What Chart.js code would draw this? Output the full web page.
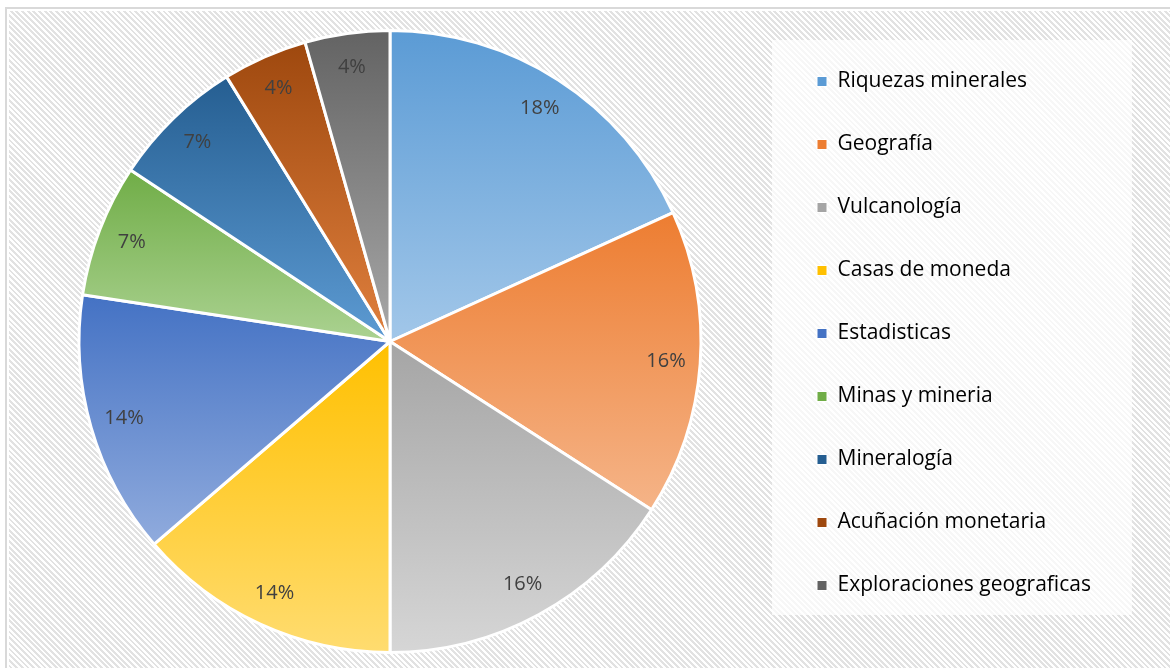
<!DOCTYPE html>
<html>
<head>
<meta charset="utf-8">
<script src="https://cdn.jsdelivr.net/npm/chart.js@4"></script>
<style>
  html, body { margin: 0; padding: 0; background: #fff; overflow: hidden; }
  #frame {
    position: absolute; left: 5px; top: 7px; width: 1200px; height: 700px;
    border: 2px solid #d9d9d9; padding: 2px; background-clip: content-box;
    background-image: repeating-linear-gradient(45deg, #fff 0px, #fff 2px, #e2e2e2 2px, #e2e2e2 4px);
  }
  #wrap { position: absolute; left: 0; top: 0; width: 1170px; height: 668px; }
</style>
</head>
<body>
<div id="frame"></div>
<div id="wrap"><canvas id="pieChart"></canvas></div>
<script>
// Datos (porcentaje por tema)
const labels = ['Riquezas minerales', 'Geografía', 'Vulcanología', 'Casas de moneda', 'Estadisticas',
                'Minas y mineria', 'Mineralogía', 'Acuñación monetaria', 'Exploraciones geograficas'];
const values = [18.2, 15.9, 15.9, 13.7, 13.7, 6.9, 6.9, 4.4, 4.4];

// Colores: arriba (oscuro) y abajo (claro) de cada porción
const topColors = ['#5b9bd5', '#ed7d31', '#a5a5a5', '#ffc000', '#4472c4', '#70ad47', '#255e91', '#9e480e', '#636363'];
const bottomColors = ['#a2c7e9', '#f5b488', '#d6d6d6', '#ffdc70', '#90abdd', '#abd291', '#5d9bd3', '#e0803e', '#a8a8a8'];

const total = values.reduce((a, b) => a + b, 0);

// Degradado vertical según el rectángulo de cada porción
function sliceGradient(context) {
    const chart = context.chart;
    const i = context.dataIndex;
    const area = chart.chartArea;
    const ctrl = chart.getDatasetMeta(0).controller;
    if (!area || !ctrl || !ctrl.outerRadius) return topColors[i];
    const cx = (area.left + area.right) / 2 + (ctrl.offsetX || 0);
    const cy = (area.top + area.bottom) / 2 + (ctrl.offsetY || 0);
    const r = ctrl.outerRadius;
    let before = 0;
    for (let k = 0; k < i; k++) before += values[k];
    const a0 = -Math.PI / 2 + 2 * Math.PI * before / total;
    const a1 = -Math.PI / 2 + 2 * Math.PI * (before + values[i]) / total;
    const ys = [cy, cy + r * Math.sin(a0), cy + r * Math.sin(a1)];
    if (a0 <= Math.PI / 2 && a1 >= Math.PI / 2) ys.push(cy + r);
    if (a0 <= -Math.PI / 2 + 1e-9) ys.push(cy - r);
    const y0 = Math.min(...ys), y1 = Math.max(...ys);
    const g = chart.ctx.createLinearGradient(0, y0, 0, y1);
    g.addColorStop(0, topColors[i]);
    g.addColorStop(1, bottomColors[i]);
    return g;
}

// Fondo blanco de la leyenda y ancho fijo de la leyenda
const legendPanel = {
    id: 'legendPanel',
    beforeInit(chart) {
        const legend = chart.legend;
        if (legend) {
            const fit = legend.fit;
            legend.fit = function () {
                fit.call(this);
                this.width = 395;
            };
        }
    },
    beforeDraw(chart) {
        const ctx = chart.ctx;
        ctx.save();
        ctx.fillStyle = 'rgba(255,255,255,0.72)';
        ctx.fillRect(772, 40, 360, 575);
        ctx.restore();
    }
};

// Etiquetas de porcentaje dentro de cada porción
const percentLabels = {
    id: 'percentLabels',
    afterDatasetsDraw(chart) {
        const ctx = chart.ctx;
        const meta = chart.getDatasetMeta(0);
        ctx.save();
        ctx.font = '20px "Open Sans"';
        ctx.fillStyle = '#404040';
        ctx.textAlign = 'center';
        ctx.textBaseline = 'middle';
        meta.data.forEach((arc, i) => {
            const p = arc.getProps(['x', 'y', 'startAngle', 'endAngle', 'outerRadius'], true);
            const mid = (p.startAngle + p.endAngle) / 2;
            const d = p.outerRadius * 0.89;
            const pct = Math.round(values[i] / total * 100) + '%';
            ctx.fillText(pct, p.x + Math.cos(mid) * d, p.y + Math.sin(mid) * d);
        });
        ctx.restore();
    }
};

window.onload = function () {
    window.pieChart = new Chart(document.getElementById('pieChart'), {
        type: 'pie',
        data: {
            labels: labels,
            datasets: [{
                data: values,
                backgroundColor: sliceGradient,
                borderColor: '#ffffff',
                borderWidth: 3
            }]
        },
        options: {
            responsive: true,
            maintainAspectRatio: false,
            animation: false,
            layout: { padding: { left: 5, top: 29, bottom: 14, right: 0 } },
            plugins: {
                legend: {
                    position: 'right',
                    align: 'start',
                    labels: {
                        boxWidth: 10,
                        boxHeight: 10,
                        padding: 42,
                        color: '#595959',
                        font: { family: '"Open Sans"', size: 21 },
                        generateLabels: function (chart) {
                            return labels.map((text, i) => ({
                                text: text,
                                fillStyle: topColors[i],
                                strokeStyle: '#ffffff',
                                lineWidth: 1,
                                hidden: false,
                                index: i
                            }));
                        }
                    }
                },
                tooltip: { enabled: false }
            }
        },
        plugins: [legendPanel, percentLabels]
    });
};
</script>
</body>
</html>
